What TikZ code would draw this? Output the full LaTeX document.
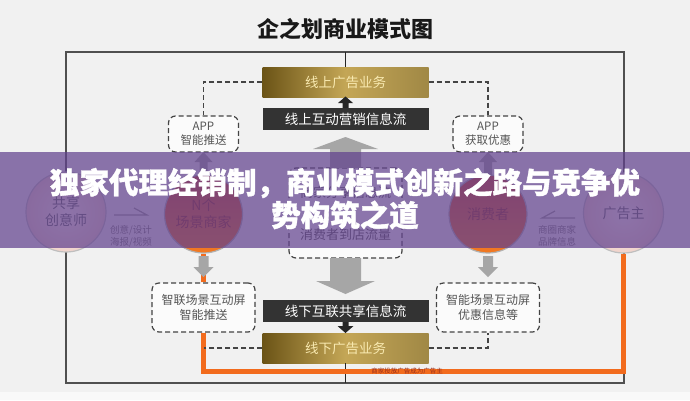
\documentclass[tikz,border=0pt]{standalone}
\usepackage{fontspec}
\newfontfamily\cjk{Noto Sans CJK SC}
\newfontfamily\cjkheavy[BoldFeatures={FakeBold=1.2}]{Noto Sans CJK SC}
\usetikzlibrary{calc}
\definecolor{bgc}{HTML}{F1F1F1}
\definecolor{framec}{HTML}{505050}
\definecolor{orangec}{HTML}{F26B1D}
\definecolor{darkboxc}{HTML}{333333}
\definecolor{goldA}{HTML}{6B5416}
\definecolor{goldB}{HTML}{C4A656}
\definecolor{goldC}{HTML}{A08845}
\definecolor{goldtext}{HTML}{F8E9B0}
\definecolor{dashc}{HTML}{444444}
\definecolor{grayarrow}{HTML}{A6A6A6}
\definecolor{bannerc}{RGB}{98,66,142}
\definecolor{circA}{HTML}{D2452B}
\definecolor{circB}{HTML}{F27A22}
\definecolor{pinkA}{HTML}{FFF4F0}
\definecolor{pinkB}{HTML}{F0D3CB}
\definecolor{labelc}{HTML}{7A7A7A}
\definecolor{boxtext}{HTML}{555555}
\definecolor{hottext}{HTML}{9A2E1C}
\begin{document}
\begin{tikzpicture}[x=1pt,y=-1pt,
  goldbox/.style={minimum width=166pt, minimum height=30pt, inner sep=0pt,
    left color=goldA, right color=goldC, middle color=goldB, text=goldtext,
    font=\cjk\fontsize{13.5}{16}\selectfont},
  darkbox/.style={fill=darkboxc, minimum width=166pt, minimum height=22pt, inner sep=0pt,
    text=white, font=\cjk\fontsize{13.5}{16}\selectfont},
  dbox/.style={draw=dashc, line width=1.2pt, dash pattern=on 5pt off 3pt, rounded corners=7pt,
    fill=white!75!bgc, inner sep=0pt, align=center, text=boxtext},
  dashline/.style={draw=dashc, line width=1.2pt, dash pattern=on 5pt off 3pt},
  orangeline/.style={draw=orangec, line width=5pt},
  hotcircle/.style={circle, minimum size=78pt, inner sep=0pt, top color=circA, bottom color=circB,
    draw=black!30, line width=1.2pt, text=hottext, align=center, font=\cjk\fontsize{14}{17}\selectfont},
  softcircle/.style={circle, minimum size=80pt, inner sep=0pt, inner color=pinkA, outer color=pinkB,
    draw=black!25, line width=1.2pt, text=black!60, align=center, font=\cjk\fontsize{14}{17}\selectfont},
  smalllabel/.style={text=labelc, align=center, inner sep=0pt, font=\cjk\fontsize{9.5}{12}\selectfont},
  harpoon/.style={draw=black!40, line width=1.2pt},
  bannertext/.style={text=white, font=\cjkheavy\bfseries\fontsize{29.5}{32}\selectfont, inner sep=0pt}
]
% background
\fill[bgc] (0,0) rectangle (690,400);
\fill[white!60!bgc] (0,392) rectangle (690,400);
% frame
\draw[framec, line width=1.6pt] (66,52) rectangle (624,383);
% title
\node[font=\cjk\bfseries\fontsize{22}{24}\selectfont, text=black!90] (title) at (345,29) {企之划商业模式图};

% central boxes
\node[goldbox] (goldtop) at (345.5,82) {线上广告业务};
\node[darkbox] (darktop) at (345.5,119) {线上互动营销信息流};
\node[dbox, minimum width=113pt, minimum height=90pt] (midbox) at (345.5,213) {};
\node[text=boxtext, font=\cjk\fontsize{13}{15}\selectfont] (mt1) at (345.5,193) {商家分享信息流};
\node[text=boxtext, font=\cjk\fontsize{13}{15}\selectfont] (mt2) at (345.5,235) {消费者到店流量};
\node[darkbox] (darkbot) at (345.5,311) {线下互联共享信息流};
\node[goldbox] (goldbot) at (345.5,348) {线下广告业务};

% side dashed boxes
\node[dbox, minimum width=70pt, minimum height=36pt, font=\cjk\fontsize{11.5}{14}\selectfont] (appl) at (203.5,134) {APP\\智能推送};
\node[dbox, minimum width=70pt, minimum height=36pt, font=\cjk\fontsize{11.5}{14}\selectfont] (appr) at (488,134) {APP\\获取优惠};
\node[dbox, minimum width=103pt, minimum height=49pt, font=\cjk\fontsize{12}{15}\selectfont] (lbox) at (203.5,307.5) {智联场景互动屏\\智能推送};
\node[dbox, minimum width=103pt, minimum height=49pt, font=\cjk\fontsize{12}{15}\selectfont] (rbox) at (488,307.5) {智能场景互动屏\\优惠信息等};

% circles
\node[softcircle] (cre) at (66,212) {共享\\创意师};
\node[hotcircle] (nbiz) at (203.5,214) {N个\\场景商家};
\node[hotcircle] (cons) at (488,214) {消费者};
\node[softcircle] (adv) at (623.5,213) {广告主};

% center vertical line
\coordinate (ftop) at (345.5,52);
\coordinate (fbot) at (345.5,383);
\draw[black!85, line width=0.8pt] (ftop) -- (goldtop.north);
\draw[black!85, line width=0.8pt] (goldbot.south) -- (fbot);

% orange path
\coordinate (ocorner) at (623.5,371.5);
\draw[orangeline] (nbiz.south) -- (lbox.north);
\draw[orangeline] (lbox.south) |- (ocorner) -- (adv.south);
\node[text=hottext, font=\cjk\fontsize{6.5}{7}\selectfont, inner sep=0pt] (olabel) at (407,371.5) {商家投放广告成为广告主};

% dashed connectors
\draw[dashline] (goldtop.west) -| (appl.north);
\draw[dashline] (goldtop.east) -| (appr.north);
\draw[dashline] (goldbot.west) -- (goldbot.west -| lbox.south);
\draw[dashline] (goldbot.east) -| (rbox.south);

% big gray arrows
\fill[grayarrow] (330,168) -- (330,149) -- (313,149) -- (345.5,137) -- (378,149) -- (361,149) -- (361,168) -- cycle;
\fill[grayarrow] (330,258) -- (330,281) -- (316,281) -- (345.5,294) -- (375,281) -- (361,281) -- (361,258) -- cycle;
% small dark arrows
\fill[black!85] (342.5,108) -- (342.5,103) -- (338,103) -- (345.5,96.5) -- (353,103) -- (348.5,103) -- (348.5,108) -- cycle;
\fill[black!85] (342.5,322) -- (342.5,326) -- (337.5,326) -- (345.5,333) -- (353.5,326) -- (348.5,326) -- (348.5,322) -- cycle;
% small gray arrows up to APP boxes
\fill[grayarrow] (199.5,175) -- (199.5,162) -- (194.5,162) -- (203.5,152) -- (212.5,162) -- (207.5,162) -- (207.5,175) -- cycle;
\fill[grayarrow] (484,175) -- (484,162) -- (479,162) -- (488,152) -- (497,162) -- (492,162) -- (492,175) -- cycle;
% small gray arrows down to lower boxes
\fill[grayarrow] (198.5,256) -- (198.5,267) -- (193.5,267) -- (203.5,277) -- (213.5,267) -- (208.5,267) -- (208.5,256) -- cycle;
\fill[grayarrow] (483,256) -- (483,267) -- (478,267) -- (488,277) -- (498,267) -- (493,267) -- (493,256) -- cycle;

% harpoon arrows with labels
\coordinate (h1s) at (114,215);
\coordinate (h1e) at (147,215);
\coordinate (h1b) at (134,208);
\draw[harpoon] (h1s) -- (h1e) -- (h1b);
\node[smalllabel] (l1) at (131,236) {创意/设计\\海报/视频};
\coordinate (h2s) at (542,218);
\coordinate (h2e) at (575,218);
\coordinate (h2b) at (555,211);
\draw[harpoon] (h2e) -- (h2s) -- (h2b);
\node[smalllabel] (l2) at (557,236) {商圈商家\\品牌信息};

% banner
\fill[bannerc, opacity=0.72] (0,152) rectangle (690,248);
\node[bannertext] (b1) at (345,183) {独家代理经销制，商业模式创新之路与竞争优};
\node[bannertext] (b2) at (345,215) {势构筑之道};
\useasboundingbox (0,0) rectangle (690,400);
\end{tikzpicture}
\end{document}
